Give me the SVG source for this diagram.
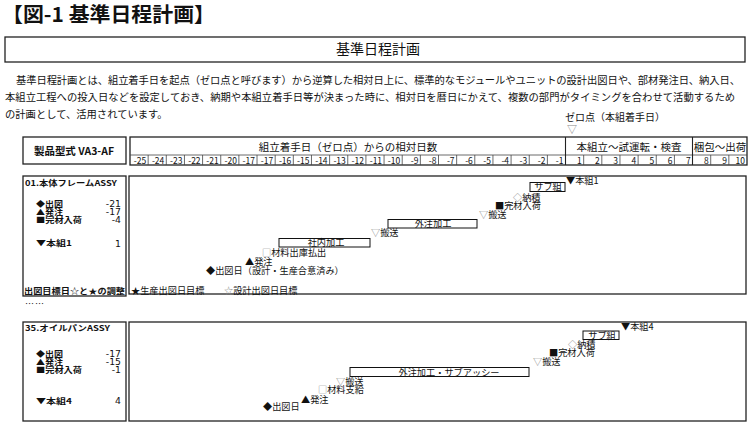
<svg xmlns="http://www.w3.org/2000/svg" width="750" height="426" viewBox="0 0 750 426">
<style>
text{font-family:"Noto Sans CJK JP","Noto Sans",sans-serif;fill:#111}
.box{fill:#fff;stroke:#222;stroke-width:1.3}
.bar{fill:#fff;stroke:#111;stroke-width:1}
.lbl{font-size:9.2px}
.ctr{text-anchor:middle}
.pl{font-size:7.8px;font-weight:bold}
.num{font-size:9.3px;font-family:"DejaVu Sans","Noto Sans",sans-serif;text-anchor:end}
.g{fill:#888}
.para{font-size:10.3px}
.hd{font-size:10.5px}
.day{font-size:8.5px;font-family:"Liberation Sans",sans-serif;text-anchor:end}
.sep{stroke:#444;stroke-width:0.8}
</style>

<g id="title">
<text x="2" y="22" font-size="20" font-weight="bold" textLength="213" lengthAdjust="spacingAndGlyphs">【図-1 基準日程計画】</text>
</g>

<g id="heading">
<rect class="box" x="5" y="37" width="740" height="25"/>
<text x="378" y="54" font-size="14" class="ctr">基準日程計画</text>
</g>

<g id="description">
<text class="para" x="16" y="84" textLength="724" lengthAdjust="spacing">基準日程計画とは、組立着手日を起点（ゼロ点と呼びます）から逆算した相対日上に、標準的なモジュールやユニットの設計出図日や、部材発注日、納入日、</text>
<text class="para" x="5" y="101" textLength="730" lengthAdjust="spacing">本組立工程への投入日などを設定しておき、納期や本組立着手日等が決まった時に、相対日を暦日にかえて、複数の部門がタイミングを合わせて活動するため</text>
<text class="para" x="5" y="118">の計画として、活用されています。</text>
</g>

<g id="zero-point">
<text x="565" y="121" font-size="10">ゼロ点（本組着手日）</text>
<text x="572" y="133" font-size="10" class="ctr g">▽</text>
</g>

<g id="header-model">
<rect class="box" x="23" y="137" width="103" height="27"/>
<text x="74" y="155" class="ctr" font-size="10.5" font-weight="bold" textLength="80" lengthAdjust="spacingAndGlyphs">製品型式 VA3-AF</text>
</g>

<g id="header-days">
<rect class="box" x="130" y="137" width="617" height="28"/>
<line class="sep" x1="130" y1="155" x2="747" y2="155"/>
<line x1="565.5" y1="137" x2="565.5" y2="165" stroke="#222" stroke-width="1.1"/>
<line x1="692.5" y1="137" x2="692.5" y2="165" stroke="#222" stroke-width="1.1"/>
<text class="hd ctr" x="348" y="151">組立着手日（ゼロ点）からの相対日数</text>
<text class="hd ctr" x="629" y="151">本組立～試運転・検査</text>
<text class="hd ctr" x="720" y="151">梱包～出荷</text>
<g class="sep">
<line x1="148.15" y1="155" x2="148.15" y2="165"/><line x1="166.29" y1="155" x2="166.29" y2="165"/>
<line x1="184.44" y1="155" x2="184.44" y2="165"/><line x1="202.59" y1="155" x2="202.59" y2="165"/>
<line x1="220.74" y1="155" x2="220.74" y2="165"/><line x1="238.88" y1="155" x2="238.88" y2="165"/>
<line x1="257.03" y1="155" x2="257.03" y2="165"/><line x1="275.18" y1="155" x2="275.18" y2="165"/>
<line x1="293.32" y1="155" x2="293.32" y2="165"/><line x1="311.47" y1="155" x2="311.47" y2="165"/>
<line x1="329.62" y1="155" x2="329.62" y2="165"/><line x1="347.76" y1="155" x2="347.76" y2="165"/>
<line x1="365.91" y1="155" x2="365.91" y2="165"/><line x1="384.06" y1="155" x2="384.06" y2="165"/>
<line x1="402.21" y1="155" x2="402.21" y2="165"/><line x1="420.35" y1="155" x2="420.35" y2="165"/>
<line x1="438.5" y1="155" x2="438.5" y2="165"/><line x1="456.65" y1="155" x2="456.65" y2="165"/>
<line x1="474.79" y1="155" x2="474.79" y2="165"/><line x1="492.94" y1="155" x2="492.94" y2="165"/>
<line x1="511.09" y1="155" x2="511.09" y2="165"/><line x1="529.24" y1="155" x2="529.24" y2="165"/>
<line x1="547.38" y1="155" x2="547.38" y2="165"/>
<line x1="583.68" y1="155" x2="583.68" y2="165"/><line x1="601.82" y1="155" x2="601.82" y2="165"/>
<line x1="619.97" y1="155" x2="619.97" y2="165"/><line x1="638.12" y1="155" x2="638.12" y2="165"/>
<line x1="656.26" y1="155" x2="656.26" y2="165"/><line x1="674.41" y1="155" x2="674.41" y2="165"/>
<line x1="710.71" y1="155" x2="710.71" y2="165"/><line x1="728.85" y1="155" x2="728.85" y2="165"/>
</g>
<g class="day">
<text x="146.2" y="163.5">-25</text><text x="164.3" y="163.5">-24</text><text x="182.4" y="163.5">-23</text>
<text x="200.6" y="163.5">-22</text><text x="218.7" y="163.5">-21</text><text x="236.9" y="163.5">-20</text>
<text x="255" y="163.5">-17</text><text x="273.2" y="163.5">-17</text><text x="291.3" y="163.5">-16</text>
<text x="309.5" y="163.5">-15</text><text x="327.6" y="163.5">-14</text><text x="345.8" y="163.5">-13</text>
<text x="363.9" y="163.5">-12</text><text x="382.1" y="163.5">-11</text><text x="400.2" y="163.5">-10</text>
<text x="418.4" y="163.5">-9</text><text x="436.5" y="163.5">-8</text><text x="454.6" y="163.5">-7</text>
<text x="472.8" y="163.5">-6</text><text x="490.9" y="163.5">-5</text><text x="509.1" y="163.5">-4</text>
<text x="527.2" y="163.5">-3</text><text x="545.4" y="163.5">-2</text><text x="563.5" y="163.5">-1</text>
<text x="581.7" y="163.5">1</text><text x="599.8" y="163.5">2</text><text x="618" y="163.5">3</text>
<text x="636.1" y="163.5">4</text><text x="654.3" y="163.5">5</text><text x="672.4" y="163.5">6</text>
<text x="690.6" y="163.5">7</text><text x="708.7" y="163.5">8</text><text x="726.9" y="163.5">9</text>
<text x="745" y="163.5">10</text>
</g>
</g>

<g id="item01-info">
<rect class="box" x="23" y="176" width="103" height="120"/>
<text class="pl" x="25" y="186" font-size="8.5" textLength="92" lengthAdjust="spacingAndGlyphs">01.本体フレームASSY</text>
<text class="pl" x="36" y="206.5" textLength="27" lengthAdjust="spacingAndGlyphs">◆出図</text><text class="num" x="121" y="207">-21</text>
<text class="pl" x="36" y="214.5" textLength="27" lengthAdjust="spacingAndGlyphs">▲発注</text><text class="num" x="121" y="215">-17</text>
<text class="pl" x="36" y="222.5" textLength="46" lengthAdjust="spacingAndGlyphs">■完材入荷</text><text class="num" x="121" y="223">-4</text>
<text class="pl" x="36" y="246" textLength="36" lengthAdjust="spacingAndGlyphs">▼本組1</text><text class="num" x="121" y="246.5">1</text>
<text class="pl" x="24" y="293.5" font-size="9" textLength="101" lengthAdjust="spacingAndGlyphs">出図目標日☆と★の調整</text>
</g>

<g id="item01-chart">
<rect class="box" x="129" y="176" width="617" height="118"/>
<text class="lbl" x="566" y="183.5">▼本組1</text>
<g id="item01-subassy"><rect class="bar" x="530" y="182.5" width="35" height="9"/><text class="lbl ctr" x="548" y="190.3">サブ組</text></g>
<text class="lbl" x="513" y="201"><tspan class="g">◇</tspan>納積</text>
<text class="lbl" x="495" y="208.5">■完材入荷</text>
<text class="lbl" x="479" y="218"><tspan class="g">▽</tspan>搬送</text>
<g id="item01-outsource"><rect class="bar" x="388" y="219.5" width="89" height="8.5"/><text class="lbl ctr" x="433" y="227.2">外注加工</text></g>
<text class="lbl" x="371" y="236"><tspan class="g">▽</tspan>搬送</text>
<g id="item01-inhouse"><rect class="bar" x="279" y="238.5" width="91" height="8.5"/><text class="lbl ctr" x="326" y="246.2">社内加工</text></g>
<text class="lbl" x="262" y="255.5"><tspan class="g">□</tspan>材料出庫払出</text>
<text class="lbl" x="245" y="265">▲発注</text>
<text class="lbl" x="206" y="273.5">◆出図日（設計・生産合意済み）</text>
<text class="lbl" x="131" y="293.5">★生産出図日目標</text>
<text class="lbl" x="224" y="293.5"><tspan class="g">☆</tspan>設計出図日目標</text>
</g>

<g id="ellipsis">
<text x="25" y="307" font-size="9" letter-spacing="1">……</text>
</g>

<g id="item35-info">
<rect class="box" x="23" y="322" width="103" height="99"/>
<text class="pl" x="25" y="331" font-size="8.5" textLength="85" lengthAdjust="spacingAndGlyphs">35.オイルパンASSY</text>
<text class="pl" x="36" y="356.5" textLength="27" lengthAdjust="spacingAndGlyphs">◆出図</text><text class="num" x="121" y="357">-17</text>
<text class="pl" x="36" y="364.5" textLength="27" lengthAdjust="spacingAndGlyphs">▲発注</text><text class="num" x="121" y="365">-15</text>
<text class="pl" x="36" y="372.5" textLength="46" lengthAdjust="spacingAndGlyphs">■完材入荷</text><text class="num" x="121" y="373">-1</text>
<text class="pl" x="36" y="403.5" textLength="36" lengthAdjust="spacingAndGlyphs">▼本組4</text><text class="num" x="121" y="404">4</text>
</g>

<g id="item35-chart">
<rect class="box" x="129" y="322" width="617" height="99"/>
<text class="lbl" x="621" y="330">▼本組4</text>
<g id="item35-subassy"><rect class="bar" x="583" y="331" width="36" height="8.5"/><text class="lbl ctr" x="602" y="338.7">サブ組</text></g>
<text class="lbl" x="568" y="348"><tspan class="g">◇</tspan>納積</text>
<text class="lbl" x="549" y="356">■完材入荷</text>
<text class="lbl" x="533" y="365"><tspan class="g">▽</tspan>搬送</text>
<g id="item35-outsource"><rect class="bar" x="350" y="367.5" width="179" height="9"/><text class="lbl ctr" x="449" y="375.5">外注加工・サブアッシー</text></g>
<text class="lbl" x="336" y="385"><tspan class="g">▽</tspan>搬送</text>
<text class="lbl" x="318" y="393"><tspan class="g">□</tspan>材料支給</text>
<text class="lbl" x="301" y="402.5">▲発注</text>
<text class="lbl" x="263" y="410">◆出図日</text>
</g>

<g id="connectors"/>
</svg>
